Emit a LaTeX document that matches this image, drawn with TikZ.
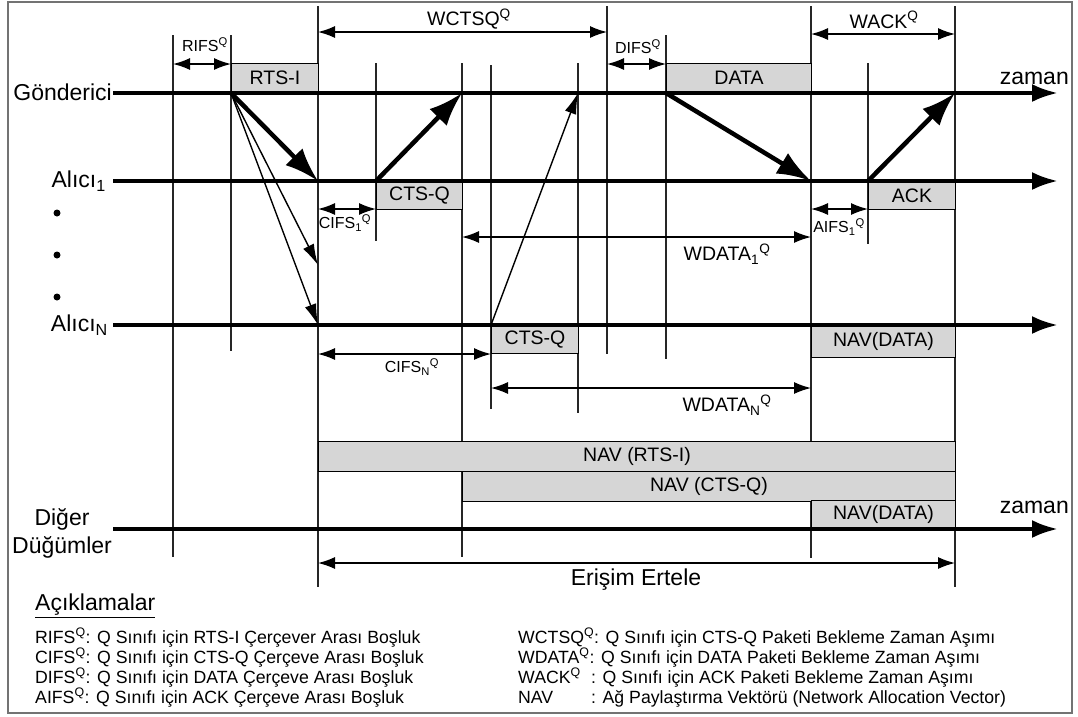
\documentclass[tikz,border=0pt]{standalone}
\usepackage{fontspec}
\setmainfont{Liberation Sans}
\usetikzlibrary{arrows.meta,positioning}
\newcommand\bigsz{\fontsize{23}{26}\selectfont}
\newcommand\midsz{\fontsize{19.5}{22}\selectfont}
\newcommand\smlsz{\fontsize{16}{18}\selectfont}
\newcommand\lgdsz{\fontsize{17.7}{20}\selectfont}
\tikzset{
    tline/.style={line width=4pt,-{Latex[length=26pt,width=18pt]}},
    vline/.style={line width=1.2pt,black!85},
    pkt/.style={draw,line width=1pt,fill=black!16,inner sep=0pt,font=\midsz},
    bigarrow/.style={line width=4.5pt,-{Latex[length=34pt,width=24pt]}},
    thinarrow/.style={line width=1.4pt,-{Latex[length=21pt,width=12pt]}},
    dim/.style={line width=1.4pt,{Latex[length=17pt,width=12pt]}-{Latex[length=17pt,width=12pt]}},
    lgd/.style={anchor=base west,font=\lgdsz}
}

\begin{document}
\begin{tikzpicture}[x=1pt,y=-1pt,every node/.style={inner sep=0pt}]
    \useasboundingbox (0,0) rectangle (1078,716);
    \draw[black!55,line width=2pt] (8,2) rectangle (1072,713);

    % time marks on each line
    \foreach \n/\y in {g/93,a/181,n/325,d/529} {
        \coordinate (\n0) at (113,\y);
        \coordinate (\n9) at (1058,\y);
        \foreach \t/\x in {A/173,B/231,C/318,D/376,E/462,F/491,G/578,H/607,I/666,J/811,K/868,L/955}
            {\coordinate (\n\t) at (\x,\y);}
    }

    \foreach \x/\top/\bot in {173/35/557,231/35/351,318/6/587,376/63/241,462/63/557,491/65/409,
        578/63/413,607/6/354,666/35/359,811/6/558,868/63/244,955/6/587}
        {\draw[vline] (\x,\top) -- (\x,\bot);}

    % packets
    \node[pkt,minimum width=87pt,minimum height=29pt,anchor=south west] (rts) at (gB) {RTS-I};
    \node[pkt,minimum width=145pt,minimum height=29pt,anchor=south west] (data) at (gI) {DATA};
    \node[pkt,minimum width=86pt,minimum height=28pt,anchor=north west] (cts1) at (aD) {CTS-Q};
    \node[pkt,minimum width=87pt,minimum height=28pt,anchor=north west] (ack) at (aK) {ACK};
    \node[pkt,minimum width=87pt,minimum height=28pt,anchor=north west] (ctsn) at (nF) {CTS-Q};
    \node[pkt,minimum width=144pt,minimum height=32pt,anchor=north west] (navn) at (nJ) {NAV(DATA)};
    \node[pkt,minimum width=637pt,minimum height=30pt,anchor=north west] (navr) at (318,441) {NAV (RTS-I)};
    \node[pkt,minimum width=493pt,minimum height=30pt,anchor=north west] (navc) at (462,471) {NAV (CTS-Q)};
    \node[pkt,minimum width=144pt,minimum height=28pt,anchor=south west] (navd) at (dJ) {NAV(DATA)};

    \foreach \n in {g,a,n,d} {\draw[tline] (\n0) -- (\n9);}

    % frames between nodes
    \coordinate (amid) at (318,265);
    \draw[bigarrow] (gB) -- (aC);
    \draw[bigarrow] (aD) -- (gE);
    \draw[bigarrow] (gI) -- (aJ);
    \draw[bigarrow] (aK) -- (gL);
    \draw[thinarrow] (gB) -- (amid);
    \draw[thinarrow] (gB) -- (nC);
    \draw[thinarrow] (nF) -- (gG);

    % intervals
    \foreach \n/\a/\b/\y in {rifs/173/231/64,wctsq/318/607/32,difs/607/666/64,wack/811/955/34,
        cifsa/318/376/209,wdataa/462/811/237,aifsa/811/868/209,cifsn/318/491/354,
        wdatan/491/811/388,defer/318/955/563} {
        \coordinate (\n-l) at (\a,\y);
        \coordinate (\n-r) at (\b,\y);
        \draw[dim] (\n-l) -- (\n-r);
    }
    \node[font=\smlsz] (lrifs) at (205,45) {RIFS\textsuperscript{Q}};
    \node[font=\midsz] (lwctsq) at (469,19) {WCTSQ\textsuperscript{Q}};
    \node[font=\smlsz] (ldifs) at (638,47) {DIFS\textsuperscript{Q}};
    \node[font=\midsz] (lwack) at (884,20) {WACK\textsuperscript{Q}};
    \node[font=\smlsz] (lcifsa) at (345,223) {CIFS\textsubscript{1}\textsuperscript{Q}};
    \node[font=\smlsz] (laifsa) at (839,227) {AIFS\textsubscript{1}\textsuperscript{Q}};
    \node[font=\midsz] (lwdataa) at (727,254) {WDATA\textsubscript{1}\textsuperscript{Q}};
    \node[font=\smlsz] (lcifsn) at (412,367) {CIFS\textsubscript{N}\textsuperscript{Q}};
    \node[font=\midsz] (lwdatan) at (727,405) {WDATA\textsubscript{N}\textsuperscript{Q}};
    \node[font=\bigsz] (ldefer) at (636,580) {Erişim Ertele};

    % stations
    \node[anchor=east,font=\bigsz] (snd) at (112,92) {Gönderici};
    \node[anchor=east,font=\bigsz] (rxa) at (106,181) {Alıcı\textsubscript{1}};
    \node[anchor=east,font=\bigsz] (rxn) at (108,325) {Alıcı\textsubscript{N}};
    \node[font=\bigsz] (oth) at (62,519) {Diğer};
    \node[below=6pt of oth,font=\bigsz] (othb) {Düğümler};
    \foreach \y in {213,255,297} {\node[circle,fill,minimum size=7pt] (dot\y) at (57,\y) {};}
    \node[anchor=east,font=\bigsz] (ztop) at (1069,78) {zaman};
    \node[anchor=east,font=\bigsz] (zbot) at (1069,507) {zaman};

    % legend
    \node[anchor=west,font=\bigsz] (lgdh) at (35,606) {\underline{Açıklamalar}};
    \node[lgd] (l1) at (35,643) {RIFS\textsuperscript{Q}: Q Sınıfı için RTS-I Çerçever Arası Boşluk};
    \node[lgd] (l2) at (35,663) {CIFS\textsuperscript{Q}: Q Sınıfı için CTS-Q Çerçeve Arası Boşluk};
    \node[lgd] (l3) at (35,683) {DIFS\textsuperscript{Q}: Q Sınıfı için DATA Çerçeve Arası Boşluk};
    \node[lgd] (l4) at (35,703) {AIFS\textsuperscript{Q}: Q Sınıfı için ACK Çerçeve Arası Boşluk};
    \node[lgd] (r1) at (518,643) {WCTSQ\textsuperscript{Q}: Q Sınıfı için CTS-Q Paketi Bekleme Zaman Aşımı};
    \node[lgd] (r2) at (518,663) {WDATA\textsuperscript{Q}: Q Sınıfı için DATA Paketi Bekleme Zaman Aşımı};
    \node[lgd] (r3) at (518,683) {WACK\textsuperscript{Q}};
    \node[lgd] (r4) at (518,703) {NAV};
    \node[lgd] (r3t) at (591,683) {: Q Sınıfı için ACK Paketi Bekleme Zaman Aşımı};
    \node[lgd] (r4t) at (591,703) {: Ağ Paylaştırma Vektörü (Network Allocation Vector)};
\end{tikzpicture}
\end{document}
